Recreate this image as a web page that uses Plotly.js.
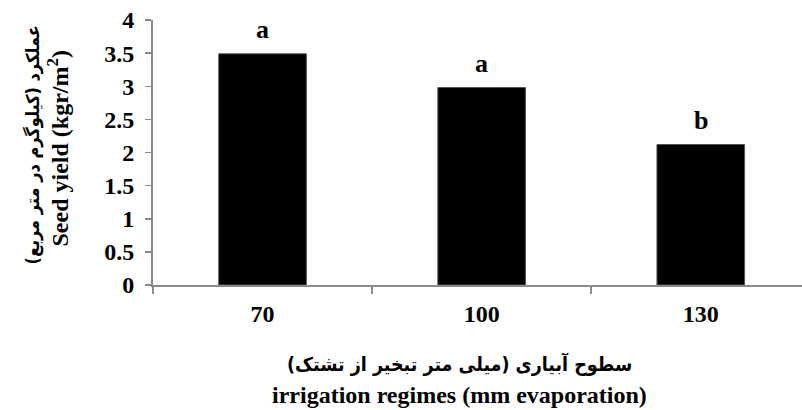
<!DOCTYPE html>
<html>
<head>
<meta charset="utf-8">
<script src="https://cdn.plot.ly/plotly-3.0.1.min.js"></script>
<style>html,body{margin:0;padding:0;background:#fff;}#chart{width:802px;height:410px;}</style>
</head>
<body>
<div id="chart"></div>
<script>
// Data
const categories = ["70", "100", "130"];
const seedYield = [3.49, 2.98, 2.12];
const groupLetters = ["a", "a", "b"];
const yTickValues = [0, 0.5, 1, 1.5, 2, 2.5, 3, 3.5, 4];
const yTickLabels = ["0", "0.5", "1", "1.5", "2", "2.5", "3", "3.5", "4"];
const xTitleFa = "سطوح آبیاری (میلی متر تبخیر از تشتک)\u200F";
const xTitleEn = "irrigation regimes (mm evaporation)";
const yTitleFa = "عملکرد (کیلوگرم در متر مربع)\u200F";
const yTitleEn = "Seed yield (kgr/m<sup>2</sup>)";

const FONT = "Liberation Serif, Times New Roman, DejaVu Serif, serif";
const FA_FONT = "DejaVu Sans Condensed, DejaVu Sans, sans-serif";
const AXIS_COLOR = "#8a8a8a";

const trace = {
  type: "bar",
  x: categories,
  y: seedYield,
  width: 0.4,
  marker: { color: "#000000", line: { color: "#555555", width: 1 } },
  hoverinfo: "x+y"
};

const letterAnnotations = groupLetters.map((g, i) => ({
  x: i, y: seedYield[i], xref: "x", yref: "y",
  text: g,
  showarrow: false, xanchor: "center", yanchor: "bottom", yshift: 8,
  font: { family: FONT, size: 26, color: "#000", weight: "bold" }
}));

const layout = {
  width: 802, height: 410,
  margin: { l: 153, r: 0, t: 20, b: 125, pad: 0 },
  paper_bgcolor: "#ffffff", plot_bgcolor: "#ffffff",
  showlegend: false,
  font: { family: FONT, size: 24, color: "#000" },
  xaxis: {
    type: "category",
    range: [-0.5, 2.462],
    showline: true, linecolor: AXIS_COLOR, linewidth: 2,
    ticks: "outside", ticklen: 7, tickcolor: AXIS_COLOR, tickwidth: 1.5,
    tickson: "boundaries",
    showgrid: false, zeroline: false,
    tickfont: { family: FONT, size: 24, color: "#000", weight: "bold" },
    ticklabelstandoff: 6
  },
  yaxis: {
    range: [0, 4],
    tickmode: "array", tickvals: yTickValues, ticktext: yTickLabels,
    showline: true, linecolor: AXIS_COLOR, linewidth: 2,
    ticks: "outside", ticklen: 6, tickcolor: AXIS_COLOR, tickwidth: 1.5,
    showgrid: false, zeroline: false,
    tickfont: { family: FONT, size: 24, color: "#000", weight: "bold" },
    ticklabelstandoff: 6
  },
  annotations: letterAnnotations.concat([
    {
      xref: "paper", yref: "paper", x: 0.473, y: 0,
      xanchor: "center", yanchor: "middle", yshift: -79,
      showarrow: false, text: xTitleFa,
      font: { family: FA_FONT, size: 19.5, color: "#000", weight: "bold" }
    },
    {
      xref: "paper", yref: "paper", x: 0.473, y: 0,
      xanchor: "center", yanchor: "middle", yshift: -110,
      showarrow: false, text: xTitleEn,
      font: { family: FONT, size: 24, color: "#000", weight: "bold" }
    },
    {
      xref: "paper", yref: "paper", x: 0, y: 0.5,
      xanchor: "center", yanchor: "middle", xshift: -121, yshift: 7,
      textangle: -90, showarrow: false, text: yTitleFa,
      font: { family: FA_FONT, size: 18, color: "#000", weight: "bold" }
    },
    {
      xref: "paper", yref: "paper", x: 0, y: 0.5,
      xanchor: "center", yanchor: "middle", xshift: -96, yshift: 4,
      textangle: -90, showarrow: false, text: yTitleEn,
      font: { family: FONT, size: 24, color: "#000", weight: "bold" }
    }
  ])
};

Plotly.newPlot("chart", [trace], layout, { displayModeBar: false, staticPlot: true });
</script>
</body>
</html>
